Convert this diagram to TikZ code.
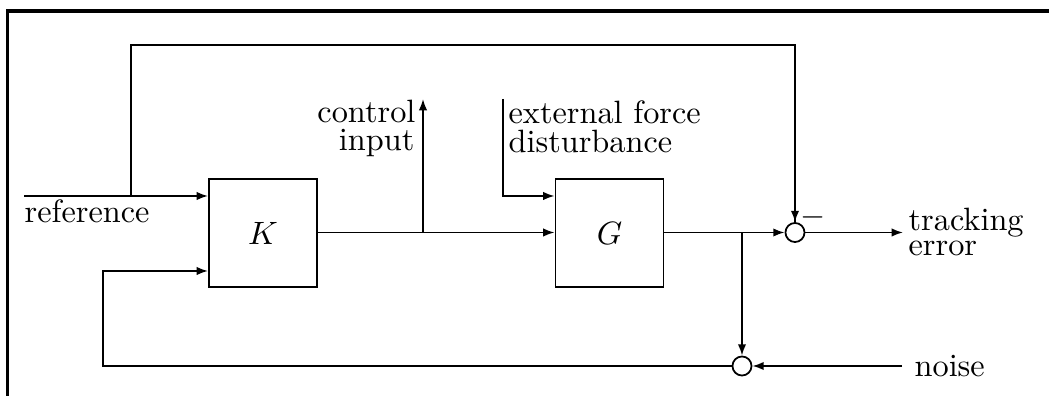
\documentclass[tikz,border=0pt]{standalone}
\usetikzlibrary{arrows.meta}
\begin{document}
\begin{tikzpicture}[x=0.3096pt,y=-0.3096pt,
  wire/.style={line width=0.55pt},
  arr/.style={wire,-{Latex[length=3.5pt,width=2.6pt]}},
  blockbox/.style={draw,line width=0.55pt,minimum width=33.5pt,minimum height=33.5pt,inner sep=0pt},
  sumnode/.style={draw,circle,line width=0.55pt,minimum size=5.9pt,inner sep=0pt},
  lbl/.style={inner sep=0pt,font=\fontsize{10}{12}\selectfont}]
\useasboundingbox (0,0) rectangle (1049,396);
% frame
\draw[line width=1pt] (7.5,396) -- (7.5,11) -- (1049,11);
% blocks
\node[blockbox] (K) at (263,233) {$K$};
\node[blockbox] (G) at (609.5,233) {$G$};
\node[sumnode] (S1) at (795,232.5) {};
\node[sumnode] (S2) at (742,366) {};
% coordinates
\coordinate (refin) at (24,196);
\coordinate (refbr) at (131,196);
\coordinate (toplft) at (131,45);
\coordinate (toprgt) at (795,45);
\coordinate (ubr) at (423,232.5);
\coordinate (utop) at (423,99);
\coordinate (exttop) at (503,99);
\coordinate (extc) at (503,196);
\coordinate (ybr) at (742,232.5);
\coordinate (errend) at (903,232.5);
\coordinate (noisein) at (902,366);
\coordinate (fbc) at (103,366);
\coordinate (fbin) at (103,271);
% connectors
\draw[arr] (refin) -- (refin -| K.west);
\draw[wire] (refbr) -- (toplft) -- (toprgt) -- (S1.north);
\draw[arr] (toprgt) -- (S1.north);
\draw[arr] (K.east |- ubr) -- (ubr -| G.west);
\draw[arr] (ubr) -- (utop);
\draw[arr] (exttop) -- (extc) -- (extc -| G.west);
\draw[arr] (G.east |- ybr) -- (S1.west);
\draw[arr] (ybr) -- (S2.north);
\draw[arr] (S1.east) -- (errend);
\draw[arr] (noisein) -- (S2.east);
\draw[arr] (S2.west) -- (fbc) -- (fbin) -- (fbin -| K.west);
% labels
\node[lbl,anchor=base west] (tref) at (24,223) {reference};
\node[lbl,anchor=base east] (tctl1) at (416,123) {control};
\node[lbl,anchor=base east] (tctl2) at (415,151) {input};
\node[lbl,anchor=base west] (text1) at (508,124) {external force};
\node[lbl,anchor=base west] (text2) at (508,153) {disturbance};
\node[lbl,anchor=base west] (terr1) at (908,231) {tracking};
\node[lbl,anchor=base west] (terr2) at (908,256) {error};
\node[lbl,anchor=base west] (tnoise) at (914,377) {noise};
\node[lbl] (tminus) at (813,217) {$-$};
\end{tikzpicture}
\end{document}
